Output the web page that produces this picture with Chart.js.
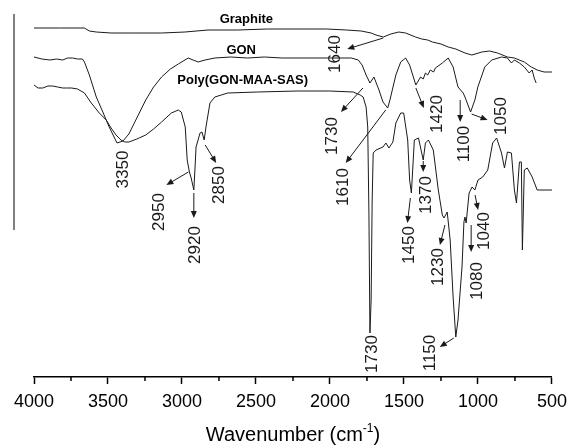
<!DOCTYPE html>
<html>
<head>
<meta charset="utf-8">
<script src="https://cdn.jsdelivr.net/npm/chart.js@4.4.1/dist/chart.umd.min.js"></script>
<style>
  html, body { margin: 0; padding: 0; background: #fff; }
</style>
</head>
<body>
<canvas id="ftir" width="574" height="445"></canvas>
<script>
// FTIR spectra: [wavenumber (cm-1), transmittance (a.u., curves stacked)]
const graphite = [
  [4000, 349], [3826, 349], [3659, 349], [3626, 346], [3579, 345], [3480, 344], [3359, 344],
  [3250, 344], [3138, 344], [2980, 345], [2824, 347], [2624, 347], [2424, 348], [2223, 348],
  [2023, 348], [1889, 347], [1789, 346], [1722, 344], [1689, 342], [1640, 340], [1589, 343],
  [1535, 345], [1489, 344], [1422, 340], [1380, 338], [1340, 337], [1308, 335], [1250, 333],
  [1201, 330], [1150, 328], [1088, 324], [1041, 322], [974, 325], [921, 326], [868, 324],
  [801, 320], [754, 319], [687, 315], [640, 310], [600, 307], [553, 305], [500, 305]
];

const gon = [
  [4000, 320], [3947, 318], [3893, 317], [3846, 318], [3806, 317], [3773, 319], [3740, 319],
  [3706, 318], [3673, 318], [3659, 315], [3626, 302], [3579, 280], [3532, 264], [3492, 250],
  [3459, 240], [3439, 234], [3399, 236], [3359, 243], [3312, 257], [3245, 277], [3192, 290],
  [3138, 300], [3078, 308], [3025, 313], [2958, 319], [2925, 317], [2891, 315], [2844, 317],
  [2778, 319], [2671, 320], [2557, 319], [2444, 320], [2323, 319], [2223, 319], [2003, 319],
  [1856, 319], [1809, 317], [1783, 312], [1756, 302], [1730, 294], [1703, 300], [1669, 287],
  [1642, 275], [1610, 269], [1595, 277], [1555, 302], [1522, 315], [1489, 319], [1462, 312],
  [1420, 292], [1400, 297], [1388, 300], [1370, 298], [1355, 304], [1340, 302], [1322, 307],
  [1300, 305], [1288, 309], [1241, 314], [1201, 319], [1168, 310], [1135, 290], [1100, 284],
  [1088, 280], [1050, 265], [1021, 277], [1001, 290], [954, 310], [907, 317], [841, 320],
  [801, 319], [774, 314], [754, 317], [720, 314], [687, 310], [654, 304], [634, 307],
  [620, 299], [607, 294]
];

const poly = [
  [4000, 292], [3973, 289], [3940, 289], [3906, 291], [3873, 291], [3840, 290], [3806, 289],
  [3780, 289], [3746, 289], [3706, 288], [3659, 284], [3613, 274], [3559, 264], [3512, 257],
  [3479, 249], [3446, 242], [3412, 237], [3386, 235], [3359, 235], [3305, 238], [3245, 242],
  [3192, 248], [3138, 255], [3072, 264], [3025, 267], [3005, 265], [2978, 250], [2965, 217],
  [2950, 205], [2938, 199], [2920, 187], [2911, 212], [2905, 230], [2878, 244], [2865, 245],
  [2850, 237], [2838, 250], [2811, 274], [2778, 280], [2691, 284], [2490, 285], [2223, 286],
  [2003, 286], [1843, 285], [1796, 282], [1776, 280], [1756, 270], [1745, 250], [1737, 164],
  [1730, 44], [1722, 77], [1715, 177], [1708, 224], [1689, 227], [1642, 230], [1622, 234],
  [1602, 229], [1575, 235], [1555, 254], [1522, 264], [1502, 264], [1475, 237], [1462, 197],
  [1450, 184], [1430, 237], [1402, 239], [1370, 217], [1355, 234], [1335, 237], [1302, 227],
  [1268, 187], [1241, 162], [1230, 159], [1208, 165], [1188, 137], [1168, 80], [1150, 40],
  [1135, 57], [1108, 110], [1095, 155], [1088, 160], [1080, 154], [1060, 184], [1040, 190],
  [1021, 187], [1000, 197], [968, 200], [934, 207], [901, 234], [874, 239], [841, 224],
  [821, 209], [801, 225], [774, 224], [754, 187], [740, 174], [720, 215], [707, 215],
  [700, 127], [687, 207], [667, 209], [634, 200], [600, 187], [500, 187]
];

const seriesNames = ["Graphite", "GON", "Poly(GON-MAA-SAS)"];
const xTickValues = [4000, 3500, 3000, 2500, 2000, 1500, 1000, 500];

// marked bands per spectrum (cm-1)
const graphitePeaks = [1640];
const gonPeaks = [1730, 1610, 1420, 1100, 1050];
const polyPeaks = [3350, 2950, 2920, 2850, 1730, 1450, 1370, 1230, 1150, 1080, 1040];

// where each band's arrow and rotated label sit, in px relative to the band on its curve
const calloutLayout = {
  "g1640": { tail: [0, 1], head: [-36, 12], label: [-49, 17] },
  "n1730": { tail: [-7, 5], head: [-29, 29], label: [-39, 53] },
  "n1610": { tail: [-2, 2], head: [-42, 55], label: [-45, 79] },
  "n1420": { tail: [0, 3], head: [8, 23], label: [20, 29] },
  "n1100": { tail: [-3, 7], head: [-3, 29], label: [0, 51] },
  "n1050": { tail: [1, 2], head: [17, 8], label: [30, 4] },
  "p3350": { label: [-8, 28] },
  "p2950": { tail: [-1, 0], head: [-23, 13], label: [-31, 40] },
  "p2920": { tail: [0, 3], head: [0, 28], label: [0, 55] },
  "p2850": { tail: [1, 5], head: [12, 23], label: [14, 45] },
  "p1730": { label: [1, 21] },
  "p1450": { tail: [-1, 5], head: [-4, 30], label: [-3, 52] },
  "p1370": { tail: [0, 1], head: [0, 12], label: [2, 35] },
  "p1230": { tail: [1, 7], head: [-4, 27], label: [-7, 49] },
  "p1150": { tail: [-2, 1], head: [-16, 10], label: [-26, 16] },
  "p1080": { tail: [5, 2], head: [5, 29], label: [10, 58] },
  "p1040": { tail: [3, 8], head: [6, 23], label: [11, 44] }
};

const FONT = "'Liberation Sans', Arial, sans-serif";
const INK = "#1a1a1a";

function valueAt(data, wn) {
  for (let i = 0; i < data.length - 1; i++) {
    const [x0, y0] = data[i];
    const [x1, y1] = data[i + 1];
    if (wn <= x0 && wn >= x1) {
      return x0 === x1 ? y0 : y0 + (y1 - y0) * (x0 - wn) / (x0 - x1);
    }
  }
  return data[data.length - 1][1];
}

function arrow(ctx, x0, y0, x1, y1) {
  const a = Math.atan2(y1 - y0, x1 - x0);
  const len = 7, half = 3;
  ctx.beginPath();
  ctx.moveTo(x0, y0);
  ctx.lineTo(x1 - Math.cos(a) * len * 0.8, y1 - Math.sin(a) * len * 0.8);
  ctx.stroke();
  ctx.beginPath();
  ctx.moveTo(x1, y1);
  ctx.lineTo(x1 - Math.cos(a) * len - Math.sin(a) * half, y1 - Math.sin(a) * len + Math.cos(a) * half);
  ctx.lineTo(x1 - Math.cos(a) * len + Math.sin(a) * half, y1 - Math.sin(a) * len - Math.cos(a) * half);
  ctx.closePath();
  ctx.fill();
}

const decorations = {
  id: "decorations",
  afterDraw(chart) {
    const ctx = chart.ctx;
    const xs = chart.scales.x, ys = chart.scales.y;
    const area = chart.chartArea;
    ctx.save();

    // grey bar on the left
    ctx.strokeStyle = "#808080";
    ctx.lineWidth = 2;
    ctx.beginPath();
    ctx.moveTo(14, 14);
    ctx.lineTo(14, 230);
    ctx.stroke();

    // minor ticks halfway between the labelled ones
    ctx.strokeStyle = "#000";
    ctx.lineWidth = 1.5;
    for (let i = 0; i < xTickValues.length - 1; i++) {
      const px = xs.getPixelForValue((xTickValues[i] + xTickValues[i + 1]) / 2);
      ctx.beginPath();
      ctx.moveTo(px, area.bottom);
      ctx.lineTo(px, area.bottom + 4);
      ctx.stroke();
    }

    // spectrum names
    ctx.fillStyle = "#000";
    ctx.font = "bold 13px " + FONT;
    ctx.textAlign = "center";
    ctx.textBaseline = "middle";
    const namePos = [[2565, 358], [2600, 327], [2590, 297]];
    seriesNames.forEach((name, i) => {
      ctx.fillText(name, xs.getPixelForValue(namePos[i][0]), ys.getPixelForValue(namePos[i][1]));
    });

    // band callouts
    const groups = [["g", graphite, graphitePeaks], ["n", gon, gonPeaks], ["p", poly, polyPeaks]];
    ctx.strokeStyle = INK;
    ctx.fillStyle = INK;
    ctx.lineWidth = 1;
    ctx.font = "17px " + FONT;
    groups.forEach(([key, data, peaks]) => {
      peaks.forEach(wn => {
        const lay = calloutLayout[key + wn];
        const px = xs.getPixelForValue(wn);
        const py = ys.getPixelForValue(valueAt(data, wn));
        if (lay.tail) {
          arrow(ctx, px + lay.tail[0], py + lay.tail[1], px + lay.head[0], py + lay.head[1]);
        }
        ctx.save();
        ctx.translate(px + lay.label[0], py + lay.label[1]);
        ctx.rotate(-Math.PI / 2);
        ctx.fillText(String(wn), 0, 1);
        ctx.restore();
      });
    });

    // axis title with superscript
    const main = "Wavenumber (cm";
    const sup = "-1";
    const tail = ")";
    ctx.fillStyle = "#000";
    ctx.textAlign = "left";
    ctx.textBaseline = "alphabetic";
    ctx.font = "20px " + FONT;
    const w1 = ctx.measureText(main).width;
    const w3 = ctx.measureText(tail).width;
    ctx.font = "12px " + FONT;
    const w2 = ctx.measureText(sup).width;
    let x = (area.left + area.right) / 2 - (w1 + w2 + w3) / 2;
    const base = 441;
    ctx.font = "20px " + FONT;
    ctx.fillText(main, x, base);
    x += w1;
    ctx.font = "12px " + FONT;
    ctx.fillText(sup, x, base - 9);
    x += w2;
    ctx.font = "20px " + FONT;
    ctx.fillText(tail, x, base);

    ctx.restore();
  }
};

const toPoints = d => d.map(([x, y]) => ({ x, y }));

new Chart(document.getElementById("ftir"), {
  type: "line",
  data: {
    datasets: [
      { label: seriesNames[0], data: toPoints(graphite) },
      { label: seriesNames[1], data: toPoints(gon) },
      { label: seriesNames[2], data: toPoints(poly) }
    ]
  },
  options: {
    responsive: false,
    animation: false,
    devicePixelRatio: 1,
    layout: { padding: { left: 34, right: 16, top: 10, bottom: 0 } },
    elements: {
      point: { radius: 0 },
      line: { borderColor: INK, borderWidth: 1, tension: 0 }
    },
    plugins: {
      legend: { display: false },
      tooltip: { enabled: false }
    },
    scales: {
      x: {
        type: "linear",
        reverse: true,
        min: 500,
        max: 4000,
        afterFit: s => { s.height = 68; },
        afterBuildTicks: s => { s.ticks = xTickValues.map(v => ({ value: v })); },
        ticks: {
          color: "#000",
          font: { family: FONT, size: 18 },
          padding: 7,
          maxRotation: 0,
          autoSkip: false,
          callback: v => String(v)
        },
        grid: {
          display: true,
          drawOnChartArea: false,
          tickLength: 7,
          tickColor: "#000",
          tickWidth: 1.5
        },
        border: { display: true, color: "#000", width: 1.5 }
      },
      y: { display: false, min: 0, max: 367 }
    }
  },
  plugins: [decorations]
});
</script>
</body>
</html>
